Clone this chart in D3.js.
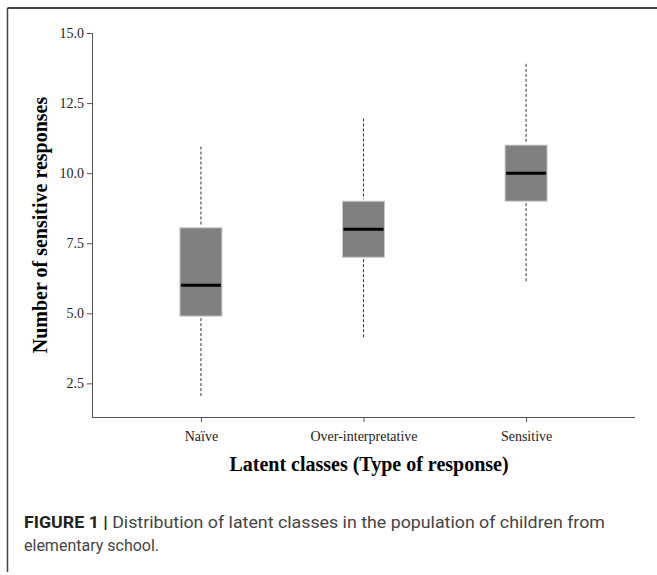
<!DOCTYPE html>
<html>
<head>
    <meta charset="utf-8">
    <title></title>
    <script src="https://d3js.org/d3.v7.min.js"></script>
    <style>
        body { margin: 0; background: #fff; }
        svg { display: block; }
    </style>
</head>
<body>
<div id="chart"></div>
<script>
    var categories = ["Naïve", "Over-interpretative", "Sensitive"]
    var whiskerLow = [2.0, 4.1, 6.1]
    var q1 = [4.9, 7.0, 9.0]
    var medians = [6.0, 8.0, 10.0]
    var q3 = [8.05, 9.0, 11.0]
    var whiskerHigh = [10.95, 11.95, 13.9]
    var yTicks = [2.5, 5.0, 7.5, 10.0, 12.5, 15.0]

    var boxes = categories.map(function(c, i){
      return {name: c, lo: whiskerLow[i], q1: q1[i], med: medians[i], q3: q3[i], hi: whiskerHigh[i]}
    })

    var svg = d3.select("#chart").append("svg")
      .attr("width", 657)
      .attr("height", 575)

    // frame (top and left edges visible)
    svg.append("line").attr("x1", 7.5).attr("x2", 657).attr("y1", 8).attr("y2", 8)
      .style("stroke", "#444").style("stroke-width", 2)
    svg.append("line").attr("x1", 7.5).attr("x2", 7.5).attr("y1", 8).attr("y2", 572)
      .style("stroke", "#444").style("stroke-width", 1.5)

    var x = d3.scalePoint().domain(categories).range([92, 635]).padding(0.67)
    var y = d3.scaleLinear().domain([1.3, 15]).range([417, 33])

    var serif = "'Liberation Serif', 'Times New Roman', serif"

    var yAxis = svg.append("g")
      .attr("transform", "translate(92,0)")
      .call(d3.axisLeft(y).tickValues(yTicks).tickFormat(d3.format(".1f")).tickSize(5).tickSizeOuter(0))
    var xAxis = svg.append("g")
      .attr("transform", "translate(0,417)")
      .call(d3.axisBottom(x).tickSize(5).tickSizeOuter(0))

    ;[yAxis, xAxis].forEach(function(g){
      g.select(".domain").style("stroke", "#555")
      g.selectAll(".tick line").style("stroke", "#555")
      g.selectAll("text").style("font-family", serif).style("font-size", "14px").style("fill", "#222")
    })
    yAxis.select(".domain").attr("d", "M0.5,33V417.5H0")
    xAxis.select(".domain").attr("d", "M92,0.5H635")
    xAxis.selectAll("text").attr("dy", "1.15em")

    var bw = 42
    var g = svg.selectAll(".box").data(boxes).enter().append("g").attr("class", "box")

    g.append("line")
      .attr("x1", function(d){ return x(d.name) }).attr("x2", function(d){ return x(d.name) })
      .attr("y1", function(d){ return y(d.hi) }).attr("y2", function(d){ return y(d.q3) - 2 })
      .style("stroke", "#333").style("stroke-width", 1).style("stroke-dasharray", "3,2")
    g.append("line")
      .attr("x1", function(d){ return x(d.name) }).attr("x2", function(d){ return x(d.name) })
      .attr("y1", function(d){ return y(d.q1) + 2 }).attr("y2", function(d){ return y(d.lo) })
      .style("stroke", "#333").style("stroke-width", 1).style("stroke-dasharray", "3,2")

    g.append("rect")
      .attr("x", function(d){ return x(d.name) - bw / 2 })
      .attr("width", bw)
      .attr("y", function(d){ return y(d.q3) })
      .attr("height", function(d){ return y(d.q1) - y(d.q3) })
      .style("fill", "#808080").style("stroke", "#c8c8c8").style("stroke-width", 1)

    g.append("line")
      .attr("x1", function(d){ return x(d.name) - bw / 2 + 1 })
      .attr("x2", function(d){ return x(d.name) + bw / 2 - 1 })
      .attr("y1", function(d){ return y(d.med) }).attr("y2", function(d){ return y(d.med) })
      .style("stroke", "#000").style("stroke-width", 3)

    svg.append("text")
      .attr("x", 369).attr("y", 471)
      .attr("text-anchor", "middle")
      .style("font-family", serif).style("font-weight", "bold").style("font-size", "20px")
      .text("Latent classes (Type of response)")

    svg.append("text")
      .attr("transform", "translate(47,225) rotate(-90)")
      .attr("text-anchor", "middle")
      .style("font-family", serif).style("font-weight", "bold").style("font-size", "20px")
      .text("Number of sensitive responses")

    var sans = "Roboto, 'Liberation Sans', sans-serif"
    var cap1 = svg.append("text")
      .attr("x", 24).attr("y", 528)
      .style("font-family", sans).style("font-size", "16px").style("fill", "#444")
      .attr("textLength", 581).attr("lengthAdjust", "spacingAndGlyphs")
    cap1.append("tspan").style("font-weight", "bold").style("fill", "#222").text("FIGURE 1 | ")
    cap1.append("tspan").text("Distribution of latent classes in the population of children from")

    svg.append("text")
      .attr("x", 24).attr("y", 551)
      .style("font-family", sans).style("font-size", "16px").style("fill", "#444")
      .text("elementary school.")
</script>
</body>
</html>
